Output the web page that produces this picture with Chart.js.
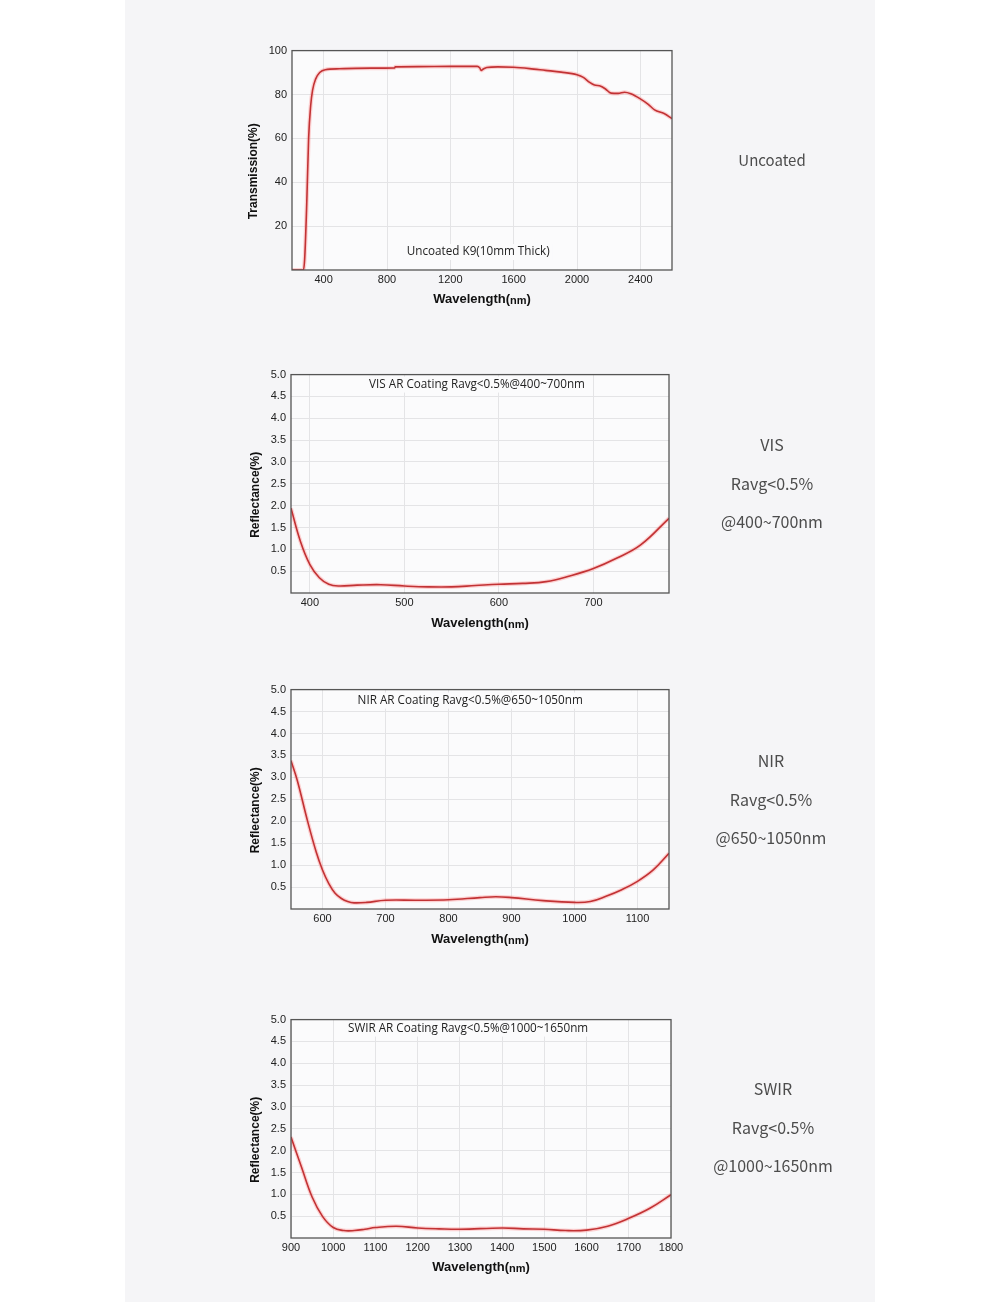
<!DOCTYPE html>
<html><head><meta charset="utf-8">
<script src="https://cdn.jsdelivr.net/npm/chart.js@4.4.1/dist/chart.umd.min.js"></script>
<style>
html,body{margin:0;padding:0;background:#fff;}
body{width:1000px;height:1302px;position:relative;overflow:hidden;}
#panel{position:absolute;left:125px;top:0;width:750px;height:1302px;background:#f5f5f7;}
canvas{position:absolute;}
.side{position:absolute;left:672px;width:200px;text-align:center;font-family:"Noto Sans CJK SC","Noto Sans",sans-serif;color:#4c4c4c;font-size:16px;line-height:38.5px;}
</style></head><body>
<div id="panel"></div>
<canvas id="c1" width="437" height="271" style="left:243px;top:39px"></canvas>
<canvas id="c2" width="432" height="271" style="left:245px;top:363px"></canvas>
<canvas id="c3" width="432" height="272" style="left:245px;top:678px"></canvas>
<canvas id="c4" width="450" height="270" style="left:245px;top:1008px"></canvas>
<div class="side" style="top:141px;font-size:15px">Uncoated</div>
<div class="side" style="top:425px">VIS<br>Ravg&lt;0.5%<br>@400~700nm</div>
<div class="side" style="top:741px;left:671px">NIR<br>Ravg&lt;0.5%<br>@650~1050nm</div>
<div class="side" style="top:1069px;left:673px">SWIR<br>Ravg&lt;0.5%<br>@1000~1650nm</div>
<script>
// ---- Data ----
const transWl  = [200,272,280,293,305,318,330,349,375,410,500,600,700,848,852,1000,1200,1370,1385,1395,1408,1430,1500,1600,1700,1800,1900,2000,2040,2080,2110,2150,2180,2215,2260,2300,2340,2400,2450,2490,2550,2600];
const transVal = [0,0,5,30,60,75,82,87,90,91.3,91.7,91.9,92,92.1,92.6,92.7,92.8,92.8,92.2,91,91.6,92.3,92.6,92.4,91.8,91,90.2,89,87.8,85.5,84.3,83.8,82.5,80.6,80.5,81,80.3,78,75.5,73,71.3,69];
const transXTicks = [400,800,1200,1600,2000,2400];
const transYTicks = [20,40,60,80,100];

const visWl  = [380,390,400,410,420,430,450,475,500,525,550,575,600,625,650,675,700,725,750,780];
const visVal = [1.94,1.18,0.65,0.35,0.2,0.16,0.18,0.19,0.16,0.14,0.14,0.17,0.2,0.22,0.26,0.39,0.56,0.8,1.1,1.71];
const visXTicks = [400,500,600,700];

const nirWl  = [550,560,576,590,600,610,620,630,640,650,670,700,750,800,850,875,900,950,1000,1025,1050,1075,1100,1125,1150];
const nirVal = [3.38,2.93,2.02,1.3,0.89,0.58,0.36,0.24,0.17,0.14,0.15,0.2,0.2,0.21,0.26,0.28,0.26,0.19,0.15,0.17,0.29,0.44,0.63,0.89,1.27];
const nirXTicks = [600,700,800,900,1000,1100];

const swirWl  = [900,925,950,975,1000,1025,1050,1075,1100,1150,1200,1250,1300,1400,1450,1500,1550,1600,1650,1700,1750,1800];
const swirVal = [2.31,1.62,0.94,0.49,0.24,0.17,0.17,0.2,0.24,0.27,0.23,0.21,0.2,0.23,0.21,0.2,0.17,0.18,0.27,0.45,0.68,0.99];
const swirXTicks = [900,1000,1100,1200,1300,1400,1500,1600,1700,1800];

const reflYTicks = [0.5,1.0,1.5,2.0,2.5,3.0,3.5,4.0,4.5,5.0];

// ---- Chart builder ----
const BG='#fbfbfc';
function deco(cfg){
  return {
    id:'deco'+cfg.id,
    beforeDraw(chart){
      const a=chart.chartArea, c=chart.ctx;
      c.save(); c.fillStyle=BG; c.fillRect(a.left,a.top,a.right-a.left,a.bottom-a.top); c.restore();
    },
    beforeDatasetsDraw(chart){
      const a=chart.chartArea, c=chart.ctx;
      c.save();
      c.font='11.7px "Open Sans"';
      const w=c.measureText(cfg.note).width;
      const x=a.left+(a.right-a.left)*cfg.noteX;
      const y=cfg.noteFromBottom ? a.bottom-cfg.noteY : a.top+cfg.noteY;
      c.fillStyle=BG; c.fillRect(x-w/2-3,y-8,w+6,16);
      c.fillStyle='#222'; c.textAlign='center'; c.textBaseline='middle';
      c.fillText(cfg.note,x,y);
      c.restore();
    },
    afterDraw(chart){
      const a=chart.chartArea, c=chart.ctx;
      c.save(); c.strokeStyle='#555'; c.lineWidth=1.3;
      c.strokeRect(a.left,a.top,a.right-a.left,a.bottom-a.top);
      const f1='bold 13px "Liberation Sans", Arial, sans-serif', f2='bold 11px "Liberation Sans", Arial, sans-serif';
      const parts=[['Wavelength(',f1],['nm',f2],[')',f1]];
      let tw=0; parts.forEach(p=>{c.font=p[1]; tw+=c.measureText(p[0]).width;});
      let x=(a.left+a.right)/2-tw/2; const y=a.bottom+cfg.xTitleDy;
      c.fillStyle='#111'; c.textBaseline='middle'; c.textAlign='left';
      parts.forEach(p=>{c.font=p[1]; c.fillText(p[0],x,y+(p[1]===f2?1:0)); x+=c.measureText(p[0]).width;});
      c.translate(cfg.yTitleX,(a.top+a.bottom)/2+11);
      c.rotate(-Math.PI/2);
      c.font='bold 12px "Liberation Sans", Arial, sans-serif';
      c.textAlign='center'; c.fillText(cfg.yTitle,0,0);
      c.restore();
    }
  };
}
function makeChart(cfg){
  const pts = cfg.wl.map((x,i)=>({x:x,y:cfg.val[i]}));
  const tickFont={family:'"Liberation Sans", Arial, sans-serif',size:11};
  const interp = cfg.monotone ? {cubicInterpolationMode:'monotone'} : {tension:0.4};
  new Chart(document.getElementById(cfg.id),{
    type:'line',
    data:{datasets:[
      Object.assign({data:pts,borderColor:'rgba(255,110,110,0.3)',borderWidth:4,pointRadius:0,fill:false},interp),
      Object.assign({data:pts,borderColor:'#a8191c',borderWidth:1.6,pointRadius:0,fill:false},interp)
    ]},
    options:{
      responsive:false,animation:false,
      layout:{padding:{top:10,right:cfg.padR,left:0,bottom:0}},
      plugins:{legend:{display:false},tooltip:{enabled:false}},
      scales:{
        x:{type:'linear',min:cfg.xMin,max:cfg.xMax,
          afterBuildTicks:s=>{s.ticks=cfg.xTicks.map(v=>({value:v}));},
          afterFit:s=>{s.height=cfg.xH;},
          grid:{color:'#e4e4e6',drawTicks:false},border:{display:false},
          ticks:{padding:3,color:'#222',font:tickFont,maxRotation:0,autoSkip:false,callback:v=>String(v)},
          title:{display:false}},
        y:{type:'linear',min:cfg.yMin,max:cfg.yMax,
          afterBuildTicks:s=>{s.ticks=cfg.yTicks.map(v=>({value:v}));},
          afterFit:s=>{s.width=cfg.yW;},
          grid:{color:'#e4e4e6',drawTicks:false},border:{display:false},
          ticks:{padding:5,color:'#222',font:tickFont,autoSkip:false,callback:v=>v.toFixed(cfg.yDec)},
          title:{display:false}}
      }
    },
    plugins:[deco(cfg)]
  });
}

makeChart({id:'c1',wl:transWl,val:transVal,monotone:true,xMin:200,xMax:2600,xTicks:transXTicks,yMin:0,yMax:100,yTicks:transYTicks,yDec:0,
  yTitle:'Transmission(%)',yTitleX:11,xTitleDy:29.5,xH:40,yW:49,padR:8,note:'Uncoated K9(10mm Thick)',noteX:0.49,noteY:18,noteFromBottom:true});
makeChart({id:'c2',wl:visWl,val:visVal,xMin:380,xMax:780,xTicks:visXTicks,yMin:0,yMax:5,yTicks:reflYTicks,yDec:1,
  yTitle:'Reflectance(%)',yTitleX:11,xTitleDy:30.5,xH:41,yW:46,padR:8,note:'VIS AR Coating Ravg<0.5%@400~700nm',noteX:0.492,noteY:10,noteFromBottom:false});
makeChart({id:'c3',wl:nirWl,val:nirVal,xMin:550,xMax:1150,xTicks:nirXTicks,yMin:0,yMax:5,yTicks:reflYTicks,yDec:1,
  yTitle:'Reflectance(%)',yTitleX:11,xTitleDy:30.5,xH:41,yW:46,padR:8,note:'NIR AR Coating Ravg<0.5%@650~1050nm',noteX:0.474,noteY:11,noteFromBottom:false});
makeChart({id:'c4',wl:swirWl,val:swirVal,xMin:900,xMax:1800,xTicks:swirXTicks,yMin:0,yMax:5,yTicks:reflYTicks,yDec:1,
  yTitle:'Reflectance(%)',yTitleX:11,xTitleDy:29.5,xH:40,yW:46,padR:24,note:'SWIR AR Coating Ravg<0.5%@1000~1650nm',noteX:0.466,noteY:9,noteFromBottom:false});
</script>
</body></html>
